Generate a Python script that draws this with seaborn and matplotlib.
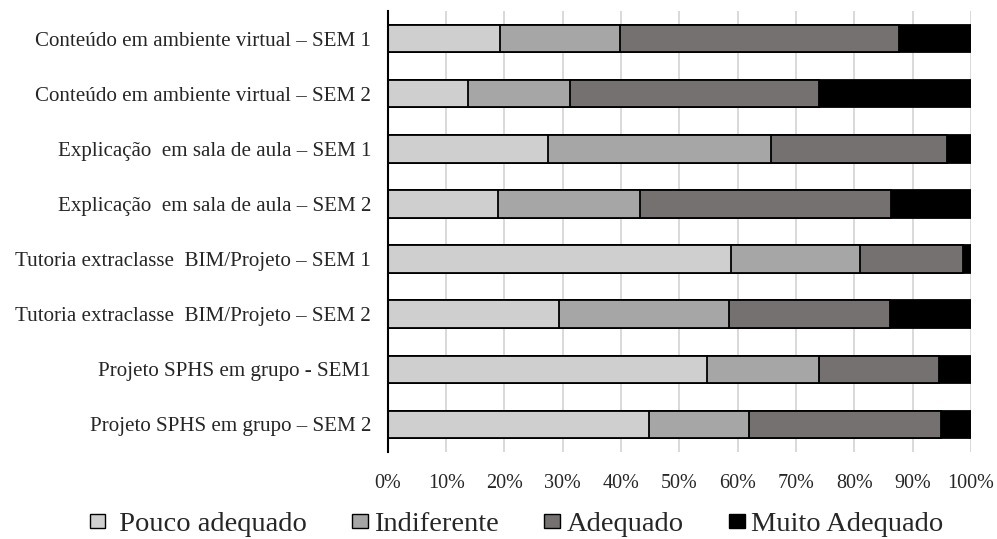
import numpy as np
import pandas as pd
import seaborn as sns
import matplotlib.pyplot as plt
from matplotlib.patches import Patch

# Data (percent of answers per item)
categorias = [
    "Conteúdo em ambiente virtual – SEM 1",
    "Conteúdo em ambiente virtual – SEM 2",
    "Explicação  em sala de aula – SEM 1",
    "Explicação  em sala de aula – SEM 2",
    "Tutoria extraclasse  BIM/Projeto – SEM 1",
    "Tutoria extraclasse  BIM/Projeto – SEM 2",
    "Projeto SPHS em grupo - SEM1",
    "Projeto SPHS em grupo – SEM 2",
]
pouco_adequado = [19.3, 13.7, 27.4, 18.9, 58.8, 29.3, 54.8, 44.8]
indiferente = [20.5, 17.5, 38.3, 24.4, 22.1, 29.2, 19.2, 17.1]
adequado = [47.9, 42.8, 30.2, 42.9, 17.7, 27.6, 20.5, 32.9]
muito_adequado = [12.3, 26.0, 4.1, 13.8, 1.4, 13.9, 5.5, 5.2]

niveis = ["Pouco adequado", "Indiferente", "Adequado", "Muito Adequado"]
cores = ["#d0cfd0", "#a6a6a6", "#767171", "#000000"]

df = pd.DataFrame({
    "item": categorias,
    "Pouco adequado": pouco_adequado,
    "Indiferente": indiferente,
    "Adequado": adequado,
    "Muito Adequado": muito_adequado,
})
# normalise to 100%
tot = df[niveis].sum(axis=1)
for n in niveis:
    df[n] = df[n] / tot * 100
cum = df[niveis].cumsum(axis=1)

sns.set_theme(style="white")
plt.rcParams["font.family"] = ["Liberation Serif", "DejaVu Serif"]

fig = plt.figure(figsize=(9.97, 5.39), dpi=100)
ax = fig.add_axes([0.389, 0.1614, 0.585, 0.8182])

# stacked bars: draw cumulative totals from the last level down
for n, c in reversed(list(zip(niveis, cores))):
    sns.barplot(x=cum[n], y=df["item"], color=c, saturation=1,
                edgecolor="black", linewidth=1.3, width=0.5, ax=ax, zorder=3)

ax.set_xlim(0, 100)
ax.set_ylim(7.5, -0.5)
ax.set_xticks(np.arange(0, 101, 10))
ax.set_xticklabels([f"{v}%" for v in range(0, 101, 10)], fontsize=14.5)
ax.tick_params(axis="y", labelsize=15.1, length=0, pad=12)
ax.tick_params(axis="x", length=0, pad=16)
ax.set_xlabel("")
ax.set_ylabel("")
ax.grid(axis="x", color="#d9d9d9", linewidth=1.4, zorder=0)
ax.set_axisbelow(True)
for s in ["top", "right", "bottom"]:
    ax.spines[s].set_visible(False)
ax.spines["left"].set_color("black")
ax.spines["left"].set_linewidth(1.5)
ax.spines["left"].set_zorder(5)

handles = [Patch(facecolor=c, edgecolor="black", linewidth=1.0) for c in cores]
rotulos = [" " + niveis[0], niveis[1], niveis[2], niveis[3]]
fig.legend(handles, rotulos, loc="center", bbox_to_anchor=(0.518, 0.027),
           ncol=4, frameon=False, fontsize=20.5, handlelength=0.55,
           handleheight=0.4, handletextpad=0.22, columnspacing=1.6)

fig.savefig("out.png", dpi=100)
